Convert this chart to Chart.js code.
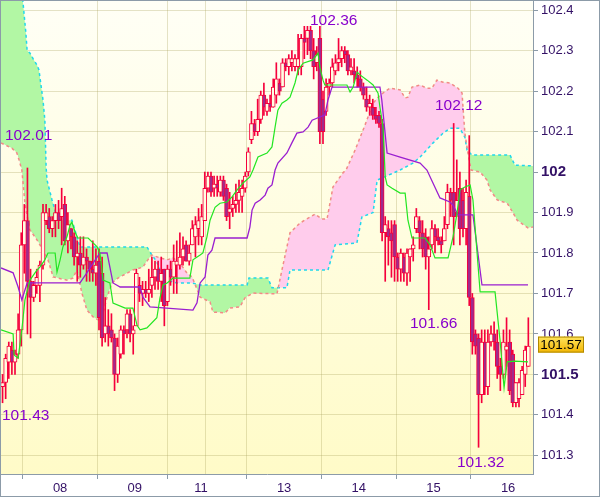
<!DOCTYPE html>
<html>
<head>
<meta charset="utf-8">
<script src="https://cdn.jsdelivr.net/npm/chart.js@4.4.1/dist/chart.umd.min.js"></script>
<style>
  html, body { margin: 0; padding: 0; background: #fff; }
  #wrap { width: 600px; height: 497px; }
</style>
</head>
<body>
<div id="wrap"><canvas id="chart" width="600" height="497"></canvas></div>
<script>
(function () {
    "use strict";

    // Hourly candles, one per bar index
    var opens = [101.47,101.48,101.53,101.56,101.53,101.55,101.61,101.82,101.88,101.73,
        101.69,101.72,101.72,101.77,101.88,101.89,101.86,101.88,101.90,101.89,
        101.92,101.83,101.86,101.84,101.79,101.80,101.77,101.79,101.78,101.76,
        101.75,101.78,101.75,101.60,101.62,101.61,101.59,101.50,101.55,101.61,
        101.61,101.65,101.60,101.62,101.72,101.70,101.71,101.70,101.72,101.74,
        101.76,101.73,101.76,101.68,101.76,101.74,101.77,101.77,101.79,101.82,
        101.78,101.82,101.84,101.86,101.84,101.88,101.96,101.99,101.96,101.97,
        101.95,101.98,101.96,101.90,101.91,101.92,101.93,101.94,101.96,102.00,
        102.08,102.12,102.10,102.13,102.19,102.15,102.17,102.16,102.19,102.22,
        102.21,102.27,102.26,102.27,102.26,102.26,102.26,102.33,102.33,102.35,
        102.30,102.27,102.33,102.18,102.15,102.21,102.22,102.25,102.27,102.28,
        102.30,102.29,102.25,102.25,102.24,102.23,102.21,102.18,102.16,102.16,
        102.14,102.14,102.12,101.85,101.86,101.85,101.87,101.79,101.76,101.79,
        101.75,101.79,101.81,101.86,101.88,101.85,101.84,101.79,101.82,101.86,
        101.84,101.83,101.83,101.87,101.95,101.95,101.90,101.96,101.93,101.86,
        101.94,101.69,101.60,101.59,101.45,101.58,101.47,101.58,101.60,101.58,
        101.52,101.50,101.56,101.58,101.55,101.43,101.44,101.45,101.50,101.52];
    var highs = [101.50,101.55,101.58,101.58,101.56,101.65,101.85,101.92,102.01,101.76,
        101.73,101.76,101.78,101.92,101.92,101.91,101.89,101.92,101.93,101.96,
        101.94,101.90,101.86,101.85,101.83,101.84,101.84,101.81,101.78,101.83,
        101.81,101.81,101.79,101.69,101.66,101.65,101.60,101.59,101.62,101.62,
        101.66,101.66,101.62,101.76,101.74,101.73,101.73,101.76,101.79,101.78,
        101.78,101.79,101.76,101.77,101.78,101.82,101.83,101.85,101.84,101.83,
        101.82,101.88,101.89,101.91,101.92,102.00,102.00,102.00,101.99,101.99,
        101.99,101.99,101.97,101.95,101.94,101.97,101.98,101.98,102.00,102.06,
        102.15,102.13,102.18,102.20,102.22,102.18,102.19,102.23,102.27,102.23,
        102.28,102.28,102.29,102.30,102.29,102.34,102.34,102.36,102.36,102.36,
        102.33,102.31,102.36,102.20,102.23,102.23,102.28,102.29,102.33,102.31,
        102.31,102.30,102.28,102.28,102.26,102.25,102.22,102.21,102.19,102.18,
        102.16,102.15,102.13,101.89,101.88,101.88,101.88,101.80,101.81,101.80,
        101.81,101.81,101.84,101.91,101.89,101.88,101.86,101.84,101.88,101.87,
        101.86,101.84,101.89,101.97,101.96,102.12,102.03,102.00,101.96,101.98,
        102.09,101.70,101.61,101.60,101.61,101.61,101.61,101.62,101.63,101.61,
        101.54,101.61,101.64,101.61,101.56,101.48,101.49,101.52,101.57,101.64];
    var lows = [101.43,101.44,101.49,101.50,101.50,101.54,101.57,101.75,101.60,101.59,
        101.68,101.70,101.68,101.76,101.87,101.85,101.84,101.84,101.86,101.82,
        101.82,101.80,101.81,101.77,101.73,101.74,101.76,101.73,101.73,101.73,
        101.72,101.61,101.57,101.58,101.57,101.58,101.46,101.48,101.54,101.55,
        101.59,101.58,101.55,101.62,101.68,101.67,101.69,101.68,101.69,101.71,
        101.71,101.68,101.62,101.67,101.72,101.70,101.70,101.76,101.77,101.78,
        101.77,101.82,101.79,101.82,101.82,101.88,101.95,101.94,101.94,101.94,
        101.94,101.93,101.88,101.86,101.89,101.90,101.90,101.90,101.95,101.99,
        102.07,102.09,102.09,102.12,102.14,102.14,102.15,102.16,102.17,102.19,
        102.21,102.25,102.24,102.25,102.25,102.24,102.24,102.28,102.29,102.28,
        102.23,102.25,102.07,102.07,102.14,102.19,102.21,102.24,102.25,102.26,
        102.27,102.24,102.24,102.22,102.21,102.20,102.18,102.15,102.14,102.13,
        102.12,102.11,101.83,101.73,101.77,101.74,101.73,101.73,101.73,101.73,
        101.72,101.73,101.78,101.85,101.81,101.79,101.76,101.66,101.81,101.80,
        101.82,101.80,101.83,101.86,101.89,101.82,101.89,101.82,101.84,101.82,
        101.67,101.55,101.55,101.32,101.43,101.45,101.45,101.57,101.56,101.49,
        101.46,101.49,101.52,101.45,101.42,101.42,101.42,101.45,101.47,101.52];
    var closes = [101.48,101.54,101.57,101.53,101.55,101.61,101.82,101.88,101.73,101.69,
        101.72,101.74,101.77,101.90,101.90,101.86,101.88,101.90,101.88,101.91,
        101.83,101.87,101.84,101.79,101.80,101.77,101.79,101.78,101.76,101.75,
        101.77,101.64,101.59,101.62,101.60,101.59,101.50,101.57,101.61,101.60,
        101.65,101.60,101.61,101.75,101.70,101.71,101.70,101.71,101.74,101.76,
        101.73,101.75,101.67,101.76,101.74,101.78,101.78,101.79,101.81,101.78,
        101.80,101.86,101.87,101.88,101.89,101.96,101.99,101.95,101.97,101.96,
        101.98,101.94,101.89,101.91,101.92,101.93,101.95,101.96,101.99,102.05,
        102.12,102.10,102.13,102.19,102.16,102.17,102.16,102.21,102.23,102.20,
        102.27,102.26,102.28,102.28,102.28,102.28,102.33,102.32,102.35,102.30,
        102.26,102.29,102.10,102.10,102.21,102.22,102.26,102.27,102.28,102.30,
        102.29,102.25,102.26,102.24,102.23,102.21,102.19,102.16,102.17,102.14,
        102.13,102.12,101.85,101.87,101.84,101.83,101.79,101.76,101.80,101.75,
        101.80,101.81,101.82,101.89,101.85,101.81,101.79,101.81,101.86,101.84,
        101.83,101.82,101.86,101.95,101.93,101.89,101.93,101.86,101.86,101.95,
        101.69,101.58,101.57,101.45,101.58,101.47,101.58,101.60,101.58,101.52,
        101.50,101.58,101.57,101.46,101.43,101.48,101.48,101.51,101.56,101.57];

    // Ichimoku lines, [bar index, price] vertices
    var tenkan = [[-0.5,101.61],[3.4,101.60],[3.7,101.548],[5.0,101.54],[6.2,101.61],[7.2,101.684],
        [8.8,101.733],[11.1,101.758],[12.0,101.765],[13.6,101.783],[14.6,101.80],[16.9,101.80],
        [17.5,101.753],[18.5,101.783],[19.4,101.815],[20.7,101.84],[21.7,101.869],[22.3,101.876],
        [23.3,101.852],[24.2,101.837],[27.5,101.837],[30.4,101.815],[31.3,101.80],[32.3,101.733],
        [34.5,101.726],[35.5,101.676],[39.4,101.664],[41.9,101.664],[43.2,101.622],[44.2,101.61],
        [46.4,101.615],[49.6,101.64],[50.6,101.689],[51.6,101.721],[52.9,101.726],[54.8,101.738],
        [60.2,101.738],[61.2,101.783],[63.5,101.795],[64.4,101.80],[65.7,101.84],[66.7,101.881],
        [68.3,101.913],[69.9,101.923],[72.1,101.926],[73.7,101.938],[75.4,101.956],[77.3,101.973],
        [79.5,101.988],[80.5,102.005],[82.1,102.037],[85.0,102.047],[86.6,102.062],[87.6,102.111],
        [88.5,102.153],[89.8,102.17],[91.4,102.178],[92.4,102.185],[94.0,102.22],[95.0,102.252],
        [96.6,102.269],[99.8,102.277],[101.4,102.294],[102.0,102.259],[103.0,102.227],[103.6,102.215],
        [110.7,102.215],[111.7,102.198],[112.7,102.21],[114.0,102.247],[114.9,102.24],[117.2,102.227],
        [119.1,102.215],[120.7,102.195],[121.3,102.16],[122.3,102.111],[123.0,101.988],[123.6,101.968],
        [125.2,101.96],[127.8,101.948],[129.4,101.948],[130.3,101.881],[131.6,101.837],[135.8,101.837],
        [137.4,101.82],[139.0,101.788],[143.2,101.788],[144.8,101.84],[146.1,101.899],[147.0,101.956],
        [148.6,101.963],[150.3,101.968],[151.2,101.931],[153.5,101.704],[158.3,101.704],[159.9,101.585],
        [161.2,101.467],[162.2,101.531],[164.7,101.533],[168.9,101.531]];
    var kijun = [[-0.5,101.763],[3.4,101.751],[5.0,101.716],[6.2,101.684],[7.9,101.726],[24.9,101.726],
        [27.1,101.751],[29.1,101.775],[31.3,101.80],[33.6,101.80],[34.5,101.765],[35.5,101.726],
        [37.8,101.716],[44.2,101.716],[45.1,101.691],[47.4,101.667],[61.2,101.659],[62.5,101.677],
        [63.5,101.726],[65.1,101.741],[66.0,101.795],[67.3,101.807],[68.3,101.837],[78.6,101.837],
        [79.5,101.864],[80.2,101.906],[81.2,101.923],[82.8,101.931],[84.4,101.943],[85.3,101.96],
        [86.6,101.968],[87.6,102.005],[88.5,102.022],[91.4,102.047],[93.0,102.072],[94.6,102.096],
        [96.6,102.099],[98.2,102.111],[99.5,102.128],[102.0,102.136],[103.6,102.141],[104.6,102.178],
        [105.9,102.21],[121.3,102.21],[121.9,102.178],[123.6,102.047],[127.8,102.037],[134.2,102.022],
        [136.4,102.005],[140.6,101.936],[143.8,101.926],[144.8,101.918],[146.4,101.894],[151.2,101.894],
        [154.1,101.721],[168.9,101.721]];
    var spanA = [[-0.5,102.55],[5.6,102.44],[6.5,102.425],[7.5,102.343],[7.9,102.30],[8.8,102.294],
        [9.8,102.28],[11.1,102.264],[11.7,102.252],[13.0,102.178],[13.6,102.128],[14.0,102.012],
        [14.3,101.98],[15.9,101.931],[17.8,101.881],[22.3,101.881],[24.9,101.815],[46.4,101.815],
        [48.0,101.795],[49.6,101.778],[50.6,101.758],[52.2,101.733],[56.1,101.726],[60.9,101.726],
        [63.5,101.721],[78.6,101.721],[79.2,101.738],[85.3,101.738],[86.6,101.714],[91.4,101.714],
        [92.4,101.758],[104.6,101.758],[106.9,101.82],[113.9,101.825],[115.5,101.889],[119.1,101.90],
        [120.4,101.98],[127.8,102.005],[131.9,102.022],[134.2,102.037],[138.4,102.072],[141.6,102.096],
        [143.8,102.108],[147.0,102.108],[148.6,102.086],[149.3,102.054],[150.9,102.042],[163.1,102.042],
        [164.7,102.017],[170.5,102.015]];
    var spanB = [[-0.5,102.072],[0.8,102.067],[3.0,102.059],[4.6,102.047],[5.3,102.03],[6.2,102.005],
        [7.2,101.923],[8.8,101.857],[11.1,101.832],[13.0,101.807],[14.6,101.783],[15.9,101.75],
        [16.2,101.741],[17.8,101.738],[20.7,101.733],[22.6,101.738],[23.9,101.758],[25.5,101.701],
        [27.1,101.659],[29.1,101.642],[30.7,101.635],[32.3,101.652],[33.6,101.691],[35.2,101.726],
        [37.1,101.738],[40.0,101.75],[41.9,101.758],[45.1,101.765],[46.7,101.783],[48.0,101.795],
        [50.6,101.788],[52.9,101.783],[54.8,101.788],[57.0,101.775],[59.3,101.75],[60.9,101.741],
        [63.5,101.691],[66.7,101.679],[67.6,101.654],[71.5,101.652],[73.1,101.664],[76.3,101.667],
        [77.9,101.689],[80.5,101.701],[88.2,101.699],[89.8,101.758],[92.4,101.85],[95.6,101.874],
        [100.4,101.896],[102.7,101.884],[104.3,101.884],[106.2,101.963],[109.4,101.998],[110.4,102.005],
        [113.3,102.054],[116.5,102.116],[119.1,102.17],[121.3,102.19],[124.5,102.207],[127.8,102.203],
        [129.4,102.183],[130.3,102.185],[131.6,102.21],[134.2,102.215],[136.4,102.207],[138.0,102.207],
        [139.6,102.227],[141.6,102.222],[143.8,102.22],[146.4,102.207],[147.7,102.195],[148.0,102.16],
        [148.6,102.096],[149.6,102.047],[150.6,102.005],[153.5,102.0],[155.7,101.98],[156.7,101.956],
        [159.0,101.931],[162.2,101.923],[164.1,101.899],[165.4,101.881],[168.9,101.862],[170.5,101.864]];

    // Axis ticks
    var priceTicks = [101.3, 101.4, 101.5, 101.6, 101.7, 101.8, 101.9, 102.0, 102.1, 102.2, 102.3, 102.4];
    var dayTicks = [18.5, 42.5, 63.8, 66.5, 90.5, 114.5, 138.5, 162.5];
    var dayLabels = ['08', '09', '11', '', '13', '14', '15', '16'];

    // High / low notes and last price
    var noteTexts = ['102.36', '102.01', '102.12', '101.66', '101.43', '101.32'];
    var lastPrice = 101.57;

    var FONT = "'Liberation Sans', Arial, sans-serif";
    var AXIS = '#8C9BA8';
    var RED = '#F5003C';

    var wicks = [], bullBodies = [], bearBodies = [];
    for (var i = 0; i < opens.length; i++) {
        wicks.push({x: i, y: [lows[i], highs[i]]});
        var body = {x: i, y: [opens[i], closes[i]]};
        if (closes[i] >= opens[i]) bullBodies.push(body); else bearBodies.push(body);
    }
    function pts(list) {
        return list.map(function (p) { return {x: p[0], y: p[1]}; });
    }

    // Background gradient + frame + notes + price box
    var decor = {
        id: 'decor',
        beforeDraw: function (chart) {
            var a = chart.chartArea, ctx = chart.ctx;
            ctx.save();
            ctx.fillStyle = '#fff';
            ctx.fillRect(0, 0, chart.width, chart.height);
            var g = ctx.createLinearGradient(0, a.top, 0, a.bottom);
            g.addColorStop(0, '#FFFFF6');
            g.addColorStop(1, '#FFFBC8');
            ctx.fillStyle = g;
            ctx.fillRect(a.left, a.top, a.right - a.left, a.bottom - a.top);
            ctx.restore();
        },
        afterDatasetsDraw: function (chart) {
            var ctx = chart.ctx;
            var spots = [[310, 21], [5, 136], [435, 105.5], [410, 324], [2, 416], [457, 462.5]];
            ctx.save();
            ctx.font = '15.5px ' + FONT;
            ctx.fillStyle = '#8800CC';
            ctx.textAlign = 'left';
            ctx.textBaseline = 'middle';
            noteTexts.forEach(function (t, k) {
                ctx.fillText(t, spots[k][0], spots[k][1]);
            });
            ctx.restore();
        },
        afterDraw: function (chart) {
            var ctx = chart.ctx;
            var y = chart.scales.y.getPixelForValue(lastPrice);
            ctx.save();
            var g = ctx.createLinearGradient(0, y - 9, 0, y + 7);
            g.addColorStop(0, '#FFE35A');
            g.addColorStop(1, '#F2B400');
            ctx.fillStyle = g;
            ctx.fillRect(538, y - 9.5, 46, 16);
            ctx.strokeStyle = '#B08800';
            ctx.lineWidth = 1;
            ctx.strokeRect(538.5, y - 9, 45, 15);
            ctx.fillStyle = '#000';
            ctx.font = '13.5px ' + FONT;
            ctx.textAlign = 'center';
            ctx.textBaseline = 'middle';
            ctx.fillText(lastPrice.toFixed(2), 561, y - 1);
            ctx.strokeStyle = AXIS;
            ctx.strokeRect(0.5, 0.5, chart.width - 1, chart.height - 1);
            ctx.restore();
        }
    };

    var ctx = document.getElementById('chart').getContext('2d');
    new Chart(ctx, {
        type: 'bar',
        data: {
            datasets: [{
                type: 'line',
                data: pts(spanA),
                borderColor: '#1FD8EC',
                borderWidth: 1.5,
                borderDash: [3, 3],
                pointRadius: 0,
                fill: {target: 1, above: '#B2F7A4', below: '#FFCCEC'},
                order: 10
            }, {
                type: 'line',
                data: pts(spanB),
                borderColor: '#F28A86',
                borderWidth: 1.5,
                borderDash: [3, 3],
                pointRadius: 0,
                fill: false,
                order: 9
            }, {
                data: wicks,
                backgroundColor: RED,
                barThickness: 1,
                grouped: false,
                order: 6
            }, {
                data: bullBodies,
                backgroundColor: '#FFFDE2',
                borderColor: RED,
                borderWidth: 1,
                borderSkipped: false,
                barThickness: 4,
                minBarLength: 2,
                grouped: false,
                order: 5
            }, {
                data: bearBodies,
                backgroundColor: '#A02A8C',
                borderColor: RED,
                borderWidth: 1,
                borderSkipped: false,
                barThickness: 4,
                minBarLength: 2,
                grouped: false,
                order: 5
            }, {
                type: 'line',
                data: pts(kijun),
                borderColor: '#9A1ED0',
                borderWidth: 1.3,
                pointRadius: 0,
                fill: false,
                order: 2
            }, {
                type: 'line',
                data: pts(tenkan),
                borderColor: '#22E622',
                borderWidth: 1.2,
                pointRadius: 0,
                fill: false,
                order: 1
            }]
        },
        options: {
            responsive: false,
            animation: false,
            devicePixelRatio: 1,
            layout: {padding: {left: 1, top: 0, right: 0, bottom: 0}},
            plugins: {legend: {display: false}, tooltip: {enabled: false}},
            scales: {
                x: {
                    type: 'linear',
                    min: -0.5,
                    max: 170.5,
                    offset: false,
                    afterBuildTicks: function (scale) {
                        scale.ticks = dayTicks.map(function (v) { return {value: v}; });
                    },
                    afterFit: function (scale) {
                        scale.height = 23;
                        scale.paddingLeft = 0;
                        scale.paddingRight = 0;
                    },
                    grid: {
                        color: 'rgba(170,165,95,0.32)',
                        tickLength: 5,
                        tickColor: function (c) {
                            return (c.tick && dayLabels[dayTicks.indexOf(c.tick.value)] === '') ? 'rgba(0,0,0,0)' : AXIS;
                        }
                    },
                    border: {color: AXIS},
                    ticks: {
                        autoSkip: false,
                        maxRotation: 0,
                        padding: 2,
                        color: '#331166',
                        font: {family: FONT, size: 13},
                        callback: function (v) {
                            var k = dayTicks.indexOf(v);
                            return k >= 0 ? dayLabels[k] : '';
                        }
                    }
                },
                y: {
                    position: 'right',
                    min: 101.254,
                    max: 102.425,
                    afterBuildTicks: function (scale) {
                        scale.ticks = priceTicks.map(function (v) { return {value: v}; });
                    },
                    afterFit: function (scale) {
                        scale.width = 67;
                        scale.paddingTop = 0;
                        scale.paddingBottom = 0;
                    },
                    grid: {color: 'rgba(170,165,95,0.32)', tickLength: 5, tickColor: AXIS},
                    border: {color: AXIS},
                    ticks: {
                        padding: 3,
                        color: '#331166',
                        font: function (c) {
                            var v = c.tick ? c.tick.value : 0;
                            var bold = Math.abs(v - 102) < 1e-6 || Math.abs(v - 101.5) < 1e-6;
                            return {family: FONT, size: bold ? 15 : 13, weight: bold ? 'bold' : 'normal'};
                        },
                        callback: function (v) { return String(Number(v.toFixed(1))); }
                    }
                }
            }
        },
        plugins: [decor]
    });
})();
</script>
</body>
</html>
